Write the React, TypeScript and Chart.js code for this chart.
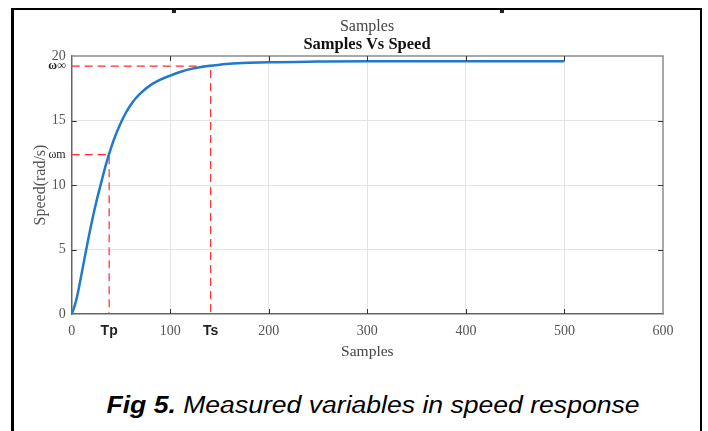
import React, { useEffect, useRef } from "react";
import { Chart, registerables } from "chart.js";

Chart.register(...registerables);

// Speed response data (samples vs speed, rad/s)
const samples = [0, 2, 5, 10, 15, 20, 25, 30, 35, 40, 45, 50, 55, 60, 65, 70, 80, 90, 100, 110, 120, 130, 140, 150, 160, 180, 200, 250, 300, 400, 500];
const speed = [0, 0.4, 1.2, 3.1, 5.1, 7.0, 8.7, 10.2, 11.65, 12.9, 13.95, 14.85, 15.6, 16.22, 16.72, 17.12, 17.74, 18.16, 18.48, 18.76, 18.98, 19.13, 19.24, 19.32, 19.39, 19.47, 19.52, 19.57, 19.6, 19.6, 19.6];

// Marked quantities
const TP = 38;
const TS = 141;
const W_M = 12.35;
const W_INF = 19.22;

// Ticks
const xTickValues = [0, TP, 100, TS, 200, 300, 400, 500, 600];
const xTickLabels = ["0", "Tp", "100", "Ts", "200", "300", "400", "500", "600"];
const yTickValues = [0, 5, 10, W_M, 15, W_INF, 20];
const yTickLabels = ["0", "5", "10", "ωm", "15", "ω∞", "20"];
const xGridValues = [100, 200, 300, 400, 500];
const yGridValues = [5, 10, 15];

const SERIF = "'Liberation Serif', 'Times New Roman', serif";
const SANS = "'Liberation Sans', Arial, sans-serif";

const framePlugin = {
  id: "matlabFrame",
  afterDatasetsDraw(chart: any) {
    const { ctx, chartArea: a, scales } = chart;
    const x = scales.x;
    const y = scales.y;
    ctx.save();
    ctx.strokeStyle = "#8c8c8c";
    ctx.lineWidth = 1.5;
    ctx.beginPath();
    ctx.moveTo(a.left, a.top);
    ctx.lineTo(a.right, a.top);
    ctx.lineTo(a.right, a.bottom);
    ctx.stroke();
    ctx.strokeStyle = "#333";
    ctx.lineWidth = 1;
    ctx.beginPath();
    for (const v of xGridValues) {
      const px = Math.round(x.getPixelForValue(v)) + 0.5;
      ctx.moveTo(px, a.bottom);
      ctx.lineTo(px, a.bottom - 5);
      ctx.moveTo(px, a.top);
      ctx.lineTo(px, a.top + 5);
    }
    for (const v of yGridValues) {
      const py = Math.round(y.getPixelForValue(v)) + 0.5;
      ctx.moveTo(a.left, py);
      ctx.lineTo(a.left + 5, py);
      ctx.moveTo(a.right, py);
      ctx.lineTo(a.right - 5, py);
    }
    ctx.stroke();
    ctx.restore();
  },
};

function isSpecialX(v: number) {
  return v === TP || v === TS;
}
function isSpecialY(v: number) {
  return v === W_M || v === W_INF;
}

export default function App() {
  const ref = useRef<HTMLCanvasElement | null>(null);

  useEffect(() => {
    if (!ref.current) return;
    const curve = samples.map((s, i) => ({ x: s, y: speed[i] }));
    const chart = new Chart(ref.current, {
      type: "line",
      data: {
        datasets: [
          {
            label: "Speed",
            data: curve,
            borderColor: "#2079c9",
            borderWidth: 2.5,
            pointRadius: 0,
            cubicInterpolationMode: "monotone",
            fill: false,
          },
          {
            label: "Tp",
            data: [
              { x: 0, y: W_M },
              { x: TP, y: W_M },
              { x: TP, y: 0 },
            ],
            borderColor: "#ff2a2a",
            borderWidth: 1.2,
            borderDash: [8, 5],
            pointRadius: 0,
            tension: 0,
            fill: false,
          },
          {
            label: "Ts",
            data: [
              { x: 0, y: W_INF },
              { x: TS, y: W_INF },
              { x: TS, y: 0 },
            ],
            borderColor: "#ff2a2a",
            borderWidth: 1.2,
            borderDash: [8, 5],
            pointRadius: 0,
            tension: 0,
            fill: false,
          },
        ],
      },
      options: {
        responsive: false,
        animation: false,
        layout: { padding: { left: 20, right: 45, top: 56, bottom: 0 } },
        plugins: {
          legend: { display: false },
          tooltip: { enabled: false },
        },
        scales: {
          x: {
            type: "linear",
            min: 0,
            max: 600,
            afterBuildTicks: (scale: any) => {
              scale.ticks = xTickValues.map((v) => ({ value: v }));
            },
            afterFit: (scale: any) => {
              scale.height = 61;
            },
            ticks: {
              autoSkip: false,
              maxRotation: 0,
              padding: 9,
              callback: (value: any) => {
                const i = xTickValues.indexOf(Number(value));
                return i >= 0 ? xTickLabels[i] : "";
              },
              color: (ctx: any) => (isSpecialX(ctx.tick?.value) ? "#222" : "#555"),
              font: (ctx: any) =>
                isSpecialX(ctx.tick?.value)
                  ? { family: SANS, size: 14, weight: "bold" }
                  : { family: SERIF, size: 14, weight: "normal" },
            },
            grid: {
              drawTicks: false,
              color: (ctx: any) => {
                const v = ctx.tick?.value;
                return xGridValues.includes(v) ? "#e4e4e4" : "rgba(0,0,0,0)";
              },
              lineWidth: 1,
            },
            border: { color: "#666", width: 1.5 },
            title: {
              display: true,
              text: "Samples",
              color: "#444",
              font: { family: SERIF, size: 15.5 },
              padding: { top: 0, bottom: 14 },
            },
          },
          y: {
            type: "linear",
            min: 0,
            max: 20,
            afterBuildTicks: (scale: any) => {
              scale.ticks = yTickValues.map((v) => ({ value: v }));
            },
            afterFit: (scale: any) => {
              scale.width = 51.7;
            },
            ticks: {
              autoSkip: false,
              padding: 6,
              callback: (value: any) => {
                const i = yTickValues.indexOf(Number(value));
                return i >= 0 ? yTickLabels[i] : "";
              },
              color: (ctx: any) => (isSpecialY(ctx.tick?.value) ? "#222" : "#555"),
              font: (ctx: any) =>
                isSpecialY(ctx.tick?.value)
                  ? { family: SERIF, size: 12, weight: ctx.tick?.value === W_INF ? "bold" : "normal" }
                  : { family: SERIF, size: 14, weight: "normal" },
            },
            grid: {
              drawTicks: false,
              color: (ctx: any) => {
                const v = ctx.tick?.value;
                return yGridValues.includes(v) ? "#e4e4e4" : "rgba(0,0,0,0)";
              },
              lineWidth: 1,
            },
            border: { color: "#666", width: 1.5 },
            title: {
              display: true,
              text: "Speed(rad/s)",
              color: "#555",
              font: { family: SERIF, size: 16 },
              padding: { top: 11, bottom: 0 },
            },
          },
        },
      } as any,
      plugins: [framePlugin],
    });
    return () => chart.destroy();
  }, []);

  return (
    <div style={{ position: "absolute", left: 0, top: 0, width: 708, height: 431, background: "#fff", overflow: "hidden" }}>
      <div
        style={{
          position: "absolute",
          left: 11,
          top: 8,
          width: 686,
          height: 440,
          borderLeft: "3px solid #000",
          borderTop: "2px solid #000",
          borderRight: "2px solid #000",
        }}
      />
      <div style={{ position: "absolute", left: 172, top: 10, width: 4, height: 3, background: "#222" }} />
      <div style={{ position: "absolute", left: 500, top: 10, width: 4, height: 3, background: "#222" }} />
      <canvas ref={ref} width={708} height={375} style={{ position: "absolute", left: 0, top: 0 }} />
      <div
        style={{
          position: "absolute",
          left: 0,
          width: 734,
          top: 17,
          textAlign: "center",
          fontFamily: SERIF,
          fontSize: 16,
          lineHeight: "18px",
          color: "#444",
        }}
      >
        Samples
      </div>
      <div
        style={{
          position: "absolute",
          left: 0,
          width: 734,
          top: 35,
          textAlign: "center",
          fontFamily: SERIF,
          fontSize: 16.5,
          fontWeight: "bold",
          lineHeight: "18px",
          color: "#111",
        }}
      >
        Samples Vs Speed
      </div>
      <div
        style={{
          position: "absolute",
          left: 0,
          width: 746,
          top: 392,
          textAlign: "center",
          fontFamily: SANS,
          fontStyle: "italic",
          fontSize: 23,
          color: "#000",
          whiteSpace: "nowrap",
          lineHeight: "26px",
          transform: "scaleX(1.155)",
          transformOrigin: "373px 0",
        }}
      >
        <b>Fig 5.</b> Measured variables in speed response
      </div>
    </div>
  );
}
